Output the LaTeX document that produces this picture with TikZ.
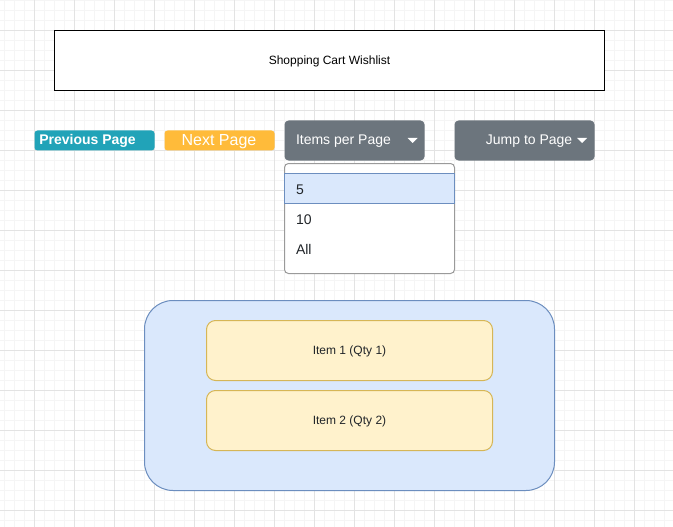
\documentclass[tikz,border=0pt]{standalone}
\usepackage{fontspec}
\setmainfont{Liberation Sans}
\definecolor{gridmajor}{HTML}{E3E3E3}
\definecolor{gridminor}{HTML}{F5F5F5}
\definecolor{infoc}{HTML}{21A3B8}
\definecolor{warnc}{HTML}{FFBB3A}
\definecolor{secc}{HTML}{6C757D}
\definecolor{blueF}{HTML}{DAE8FC}
\definecolor{blueS}{HTML}{6C8EBF}
\definecolor{yelF}{HTML}{FFF2CC}
\definecolor{yelS}{HTML}{D6B656}
\definecolor{listS}{HTML}{9A9A9A}
\definecolor{txt}{HTML}{212529}
\tikzset{
  box/.style={draw, line width=1pt, inner sep=0pt, outer sep=0pt},
  btn/.style={box, draw=none, rounded corners=3pt},
  fs12/.style={font=\fontsize{12}{14}\selectfont},
  fs14/.style={font=\fontsize{14}{16}\selectfont},
  lbl/.style={inner sep=0pt, outer sep=0pt, anchor=west},
  ctr/.style={inner sep=0pt, outer sep=0pt},
  caret/.style={fill=white},
}
\begin{document}
\begin{tikzpicture}[x=1pt,y=-1pt]
\useasboundingbox (0,0) rectangle (673,527);
\fill[white] (0,0) rectangle (673,527);
% grid
\foreach \gx in {4.5,14.5,...,670} \draw[gridminor,line width=1pt] (\gx,0) -- (\gx,527);
\foreach \gy in {0.5,10.5,...,527} \draw[gridminor,line width=1pt] (0,\gy) -- (673,\gy);
\foreach \gx in {34.5,74.5,...,670} \draw[gridmajor,line width=1pt] (\gx,0) -- (\gx,527);
\foreach \gy in {30.5,70.5,...,527} \draw[gridmajor,line width=1pt] (0,\gy) -- (673,\gy);

% title
\node[box, fill=white, minimum width=550pt, minimum height=60pt] (title) at (329.5,60.5) {};
\node[ctr, fs12] (titlet) at (329.5,61.3) {Shopping Cart Wishlist};

% buttons
\node[btn, fill=infoc, minimum width=120pt, minimum height=20pt] (prev) at (94.5,140.5) {};
\node[lbl, text=white, font=\bfseries\fontsize{14}{16}\selectfont] (prevt) at (39.3,141.3) {Previous Page};

\node[btn, fill=warnc, minimum width=110pt, minimum height=20pt] (next) at (219.5,140.5) {};
\node[ctr, text=white, font=\fontsize{16}{18}\selectfont] (nextt) at (219,141.5) {Next Page};

\node[btn, fill=secc, rounded corners=4pt, minimum width=140pt, minimum height=40pt] (ipp) at (354.5,140.5) {};
\node[lbl, text=white, fs14] (ippt) at (296,141.3) {Items per Page};
\fill[caret] (407.5,138) -- (417.5,138) -- (412.5,143) -- cycle;

\node[btn, fill=secc, rounded corners=4pt, minimum width=140pt, minimum height=40pt] (jump) at (524.5,140.5) {};
\node[lbl, anchor=east, text=white, fs14] (jumpt) at (572.3,141.3) {Jump to Page};
\fill[caret] (577,138) -- (587,138) -- (582,143) -- cycle;

% dropdown list
\node[box, draw=listS, fill=white, rounded corners=4pt, minimum width=170pt, minimum height=110pt] (dd) at (369.5,218.5) {};
\node[box, draw=blueS, fill=blueF, minimum width=170pt, minimum height=30pt] (hl) at (369.5,188.5) {};
\node[lbl, text=txt, fs14] (o5) at (296,189.3) {5};
\node[lbl, text=txt, fs14] (o10) at (296,219.3) {10};
\node[lbl, text=txt, fs14] (oall) at (296,249) {All};

% container
\node[box, draw=blueS, fill=blueF, rounded corners=28.5pt, minimum width=410pt, minimum height=190pt] (cont) at (349.5,395.5) {};
\node[box, draw=yelS, fill=yelF, rounded corners=9pt, minimum width=286pt, minimum height=60pt] (item1) at (349.5,350.5) {};
\node[ctr, fs12, text=txt] (item1t) at (349.5,351.3) {Item 1 (Qty 1)};
\node[box, draw=yelS, fill=yelF, rounded corners=9pt, minimum width=286pt, minimum height=60pt] (item2) at (349.5,420.5) {};
\node[ctr, fs12, text=txt] (item2t) at (349.5,421.3) {Item 2 (Qty 2)};
\end{tikzpicture}
\end{document}
